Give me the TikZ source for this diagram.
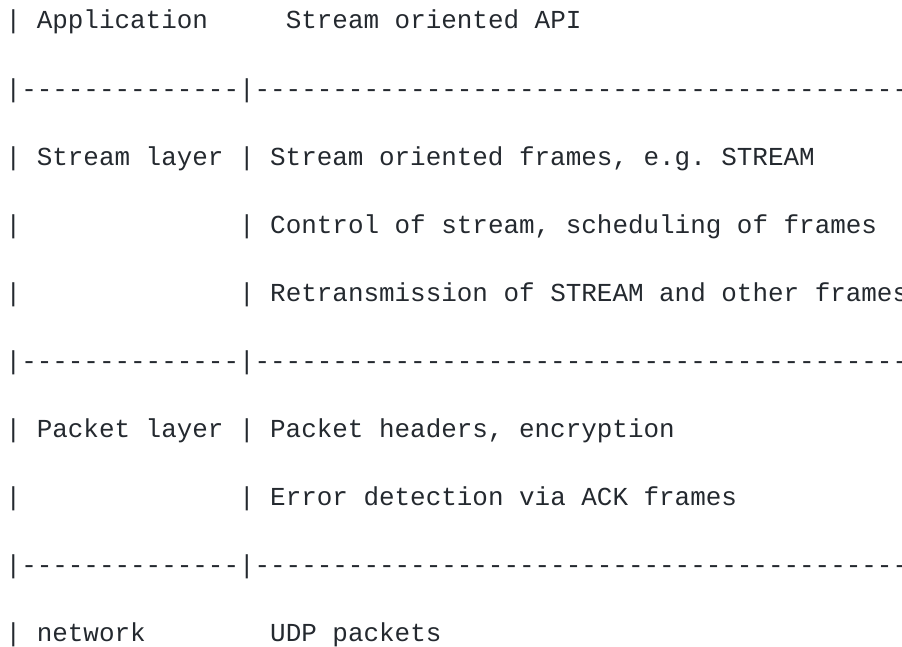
\documentclass[tikz,border=0pt]{standalone}
\usepackage{fontspec}
\setmonofont{Liberation Mono}
\definecolor{ink}{RGB}{36,41,47}
\tikzset{
  asciirow/.style={anchor=base west, inner sep=0pt, text=ink,
    font=\ttfamily\fontsize{25.93}{30}\selectfont\frenchspacing}
}
\begin{document}
\begin{tikzpicture}[x=1pt,y=1pt]
  \useasboundingbox (0,0) rectangle (902,647);
  \clip (0,0) rectangle (902,647);
  % layer table, one node per text row
  \node[asciirow] (app)     at (5.5,618.0) {|~Application~~~~~Stream oriented API};
  \node[asciirow] (sepa)    at (5.5,549.9) {|--------------|--------------------------------------------};
  \node[asciirow] (stream)  at (5.5,481.8) {|~Stream layer~|~Stream oriented frames, e.g. STREAM};
  \node[asciirow] (control) at (5.5,413.7) {|~~~~~~~~~~~~~~|~Control of stream, scheduling of frames};
  \node[asciirow] (retrans) at (5.5,345.6) {|~~~~~~~~~~~~~~|~Retransmission of STREAM and other frames};
  \node[asciirow] (sepb)    at (5.5,277.5) {|--------------|--------------------------------------------};
  \node[asciirow] (packet)  at (5.5,209.4) {|~Packet layer~|~Packet headers, encryption};
  \node[asciirow] (errdet)  at (5.5,141.3) {|~~~~~~~~~~~~~~|~Error detection via ACK frames};
  \node[asciirow] (sepc)    at (5.5,73.2)  {|--------------|--------------------------------------------};
  \node[asciirow] (net)     at (5.5,5.1)   {|~network~~~~~~~~UDP packets};
\end{tikzpicture}
\end{document}
